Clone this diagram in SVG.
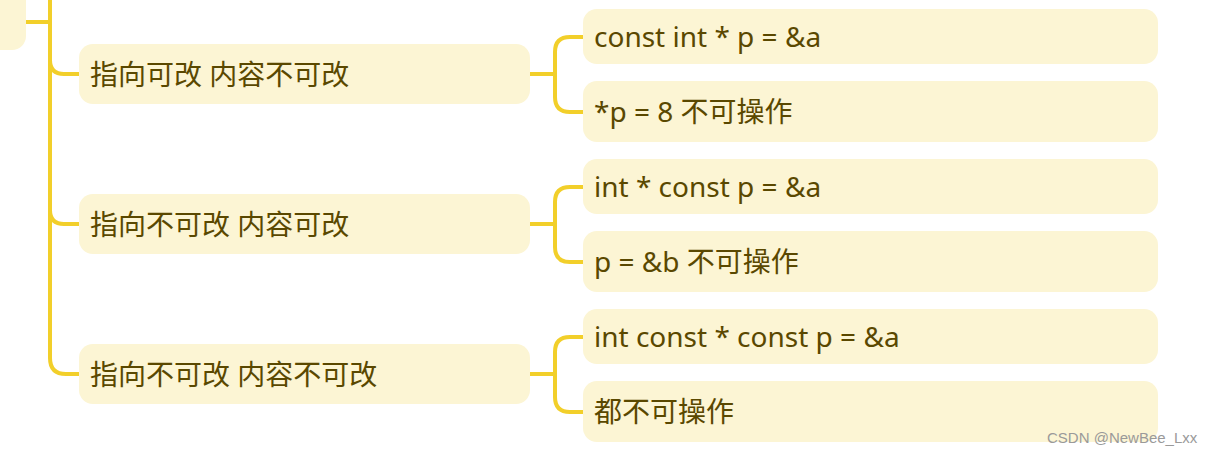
<svg xmlns="http://www.w3.org/2000/svg" width="1212" height="452" viewBox="0 0 1212 452">
<style>
.n{fill:#fcf5d4}
.t{fill:#5a4800;font-family:"Noto Sans","Noto Sans CJK SC",sans-serif}
.p{font-size:28px}
.c{font-size:28px}
.l{fill:none;stroke:#f2cf2a;stroke-width:4;stroke-linecap:round}
</style>
<rect width="1212" height="452" fill="#ffffff"/>
<g id="connectors">
<path class="l" d="M26 22H50M50 0V358Q50 374 66 374H80M50 60Q50 74 64 74H80M50 210Q50 224 64 224H80"/>
<path class="l" d="M530 74H555M555 52Q555 37 570 37H584M555 52V97Q555 112 570 112H584"/>
<path class="l" d="M530 224H555M555 202Q555 187 570 187H584M555 202V247Q555 262 570 262H584"/>
<path class="l" d="M530 374H555M555 352Q555 337 570 337H584M555 352V397Q555 412 570 412H584"/>
</g>
<g id="root"><rect class="n" x="-20" y="-20" width="46" height="70" rx="14"/></g>
<g id="n1"><rect class="n" x="79" y="44" width="451" height="60" rx="14"/><text class="t p" x="90" y="85">指向可改 内容不可改</text></g>
<g id="n2"><rect class="n" x="79" y="194" width="451" height="60" rx="14"/><text class="t p" x="90" y="235">指向不可改 内容可改</text></g>
<g id="n3"><rect class="n" x="79" y="344" width="451" height="60" rx="14"/><text class="t p" x="90" y="385">指向不可改 内容不可改</text></g>
<g id="c1"><rect class="n" x="583" y="9" width="575" height="55" rx="14"/><text class="t c" x="594" y="47">const int * p = &amp;a</text></g>
<g id="c2"><rect class="n" x="583" y="81" width="575" height="61" rx="14"/><text class="t c" x="594" y="122">*p = 8 不可操作</text></g>
<g id="c3"><rect class="n" x="583" y="159" width="575" height="55" rx="14"/><text class="t c" x="594" y="197">int * const p = &amp;a</text></g>
<g id="c4"><rect class="n" x="583" y="231" width="575" height="61" rx="14"/><text class="t c" x="594" y="272">p = &amp;b 不可操作</text></g>
<g id="c5"><rect class="n" x="583" y="309" width="575" height="55" rx="14"/><text class="t c" x="594" y="347">int const * const p = &amp;a</text></g>
<g id="c6"><rect class="n" x="583" y="381" width="575" height="61" rx="14"/><text class="t c" x="594" y="422">都不可操作</text></g>
<text x="1047" y="443" font-family="Liberation Sans,Arial,sans-serif" font-size="15" fill="#9a9a9a">CSDN @NewBee_Lxx</text>
</svg>
